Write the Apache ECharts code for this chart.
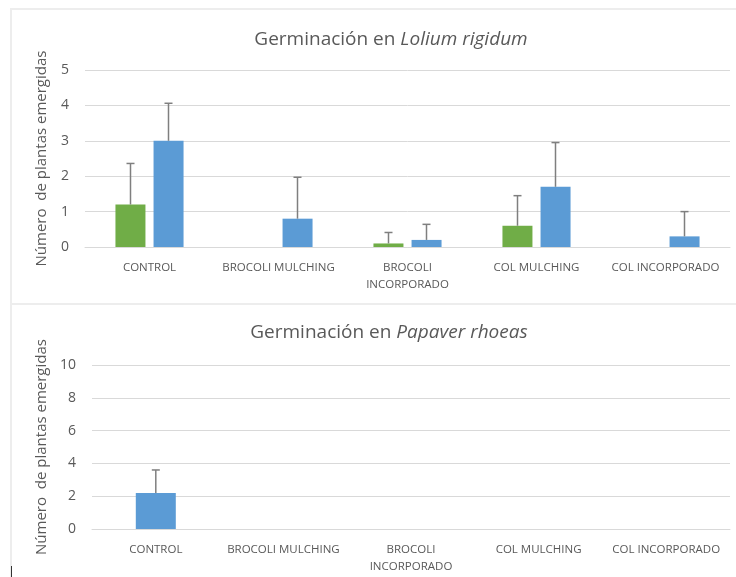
<!DOCTYPE html>
<html>
<head>
<meta charset="utf-8">
<script src="https://cdn.jsdelivr.net/npm/echarts@6/dist/echarts.min.js"></script>
<style>
  html, body { margin: 0; padding: 0; background: #fff; }
  #chart { width: 736px; height: 577px; }
</style>
</head>
<body>
<div id="chart"></div>
<script>
// categorías (tratamientos)
const categories = ['CONTROL', 'BROCOLI MULCHING', 'BROCOLI INCORPORADO', 'COL MULCHING', 'COL INCORPORADO'];

// Lolium rigidum: dos series (verde / azul) con su desviación
const loliumGreen = [1.2, 0, 0.1, 0.6, 0];
const loliumGreenSd = [1.16, 0, 0.31, 0.85, 0];
const loliumBlue = [3.0, 0.8, 0.2, 1.7, 0.3];
const loliumBlueSd = [1.06, 1.17, 0.44, 1.25, 0.7];

// Papaver rhoeas: una sola serie
const papaverBlue = [2.2, 0, 0, 0, 0];
const papaverBlueSd = [1.4, 0, 0, 0, 0];

const GREEN = '#70ad47';
const BLUE = '#5b9bd5';
const TEXT = '#595959';
const GRIDLINE = '#d9d9d9';
const FONT = '"Open Sans", "Noto Sans", sans-serif';

// barra de error solo hacia arriba, con tope
function errorBars(values, sds, offset) {
  return values.map((v, i) => [i, v, v + sds[i], offset]);
}

function renderError(params, api) {
  const lo = api.value(1);
  const hi = api.value(2);
  if (hi <= lo) return null;
  const off = api.value(3);
  const p0 = api.coord([api.value(0), lo]);
  const p1 = api.coord([api.value(0), hi]);
  const x = p0[0] + off;
  const cap = 4;
  const style = { stroke: '#7f7f7f', lineWidth: 1.5 };
  return {
    type: 'group',
    children: [
      { type: 'line', shape: { x1: x, y1: p0[1], x2: x, y2: p1[1] }, style },
      { type: 'line', shape: { x1: x - cap, y1: p1[1], x2: x + cap, y2: p1[1] }, style }
    ]
  };
}

const labelFmt = v => v.replace('BROCOLI INCORPORADO', 'BROCOLI\nINCORPORADO');

function xAxis(gridIndex) {
  return {
    type: 'category',
    gridIndex,
    data: categories,
    axisTick: { show: false },
    axisLine: { lineStyle: { color: GRIDLINE } },
    axisLabel: { interval: 0, color: TEXT, fontSize: 11.5, fontFamily: FONT, margin: 12, lineHeight: 17, formatter: labelFmt }
  };
}

function yAxis(gridIndex, max, interval, nameGap) {
  return {
    type: 'value',
    gridIndex,
    min: 0,
    max,
    interval,
    name: 'Número  de plantas emergidas',
    nameLocation: 'middle',
    nameGap,
    nameTextStyle: { color: TEXT, fontSize: 15, fontFamily: FONT },
    axisLabel: { color: TEXT, fontSize: 14, fontFamily: FONT, margin: 16 },
    splitLine: { lineStyle: { color: GRIDLINE } },
    axisLine: { show: false },
    axisTick: { show: false }
  };
}

const titleRich = {
  n: { color: TEXT, fontSize: 19, fontFamily: FONT, fontWeight: 'normal' },
  i: { color: TEXT, fontSize: 19, fontFamily: FONT, fontWeight: 'normal', fontStyle: 'italic' }
};

const chart = echarts.init(document.getElementById('chart'));
chart.setOption({
  backgroundColor: '#fff',
  animation: false,
  graphic: [
    { type: 'rect', shape: { x: 11, y: 9, width: 735, height: 295 }, style: { fill: 'none', stroke: '#ededed', lineWidth: 2 }, z: -1 },
    { type: 'rect', shape: { x: 11, y: 304, width: 735, height: 290 }, style: { fill: 'none', stroke: '#ededed', lineWidth: 2 }, z: -1 },
    { type: 'line', shape: { x1: 11.5, y1: 566, x2: 11.5, y2: 577 }, style: { stroke: '#333', lineWidth: 1 } }
  ],
  title: [
    { text: '{n|Germinación en }{i|Lolium rigidum}', left: 386, top: 25, textAlign: 'center', textStyle: { fontWeight: 'normal', rich: titleRich } },
    { text: '{n|Germinación en }{i|Papaver rhoeas}', left: 384, top: 318, textAlign: 'center', textStyle: { fontWeight: 'normal', rich: titleRich } }
  ],
  grid: [
    { left: 85, right: 6, top: 70, height: 177 },
    { left: 92, right: 6, top: 365, height: 164 }
  ],
  xAxis: [xAxis(0), xAxis(1)],
  yAxis: [yAxis(0, 5, 1, 36), yAxis(1, 10, 2, 43)],
  series: [
    { type: 'bar', xAxisIndex: 0, yAxisIndex: 0, data: loliumGreen, barWidth: 30, barGap: '27%', itemStyle: { color: GREEN } },
    { type: 'bar', xAxisIndex: 0, yAxisIndex: 0, data: loliumBlue, barWidth: 30, barGap: '27%', itemStyle: { color: BLUE } },
    { type: 'bar', xAxisIndex: 1, yAxisIndex: 1, data: papaverBlue, barWidth: 40, itemStyle: { color: BLUE } },
    { type: 'custom', xAxisIndex: 0, yAxisIndex: 0, renderItem: renderError, data: errorBars(loliumGreen, loliumGreenSd, -19), z: 10 },
    { type: 'custom', xAxisIndex: 0, yAxisIndex: 0, renderItem: renderError, data: errorBars(loliumBlue, loliumBlueSd, 19), z: 10 },
    { type: 'custom', xAxisIndex: 1, yAxisIndex: 1, renderItem: renderError, data: errorBars(papaverBlue, papaverBlueSd, 0), z: 10 }
  ]
});
</script>
</body>
</html>
